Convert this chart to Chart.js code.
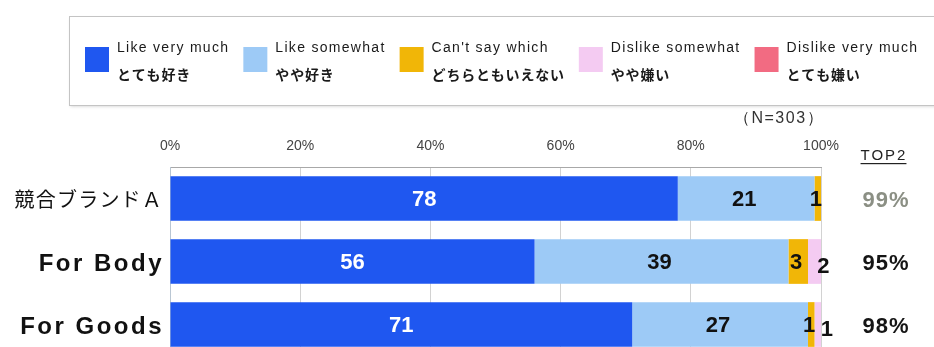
<!DOCTYPE html>
<html>
<head>
<meta charset="utf-8">
<script src="https://cdn.jsdelivr.net/npm/chart.js@4.4.1/dist/chart.umd.min.js"></script>
<style>
  html, body { margin: 0; padding: 0; background: #ffffff; overflow: hidden; }
  #wrap { width: 934px; height: 347px; overflow: hidden; }
  canvas { display: block; }
</style>
</head>
<body>
<div id="wrap"><canvas id="chart" width="934" height="360"></canvas></div>
<script>
// Survey rows and answer shares (%)
const categories = ['競合ブランドＡ', 'For Body', 'For Goods'];
const likeVeryMuch    = [78, 56, 71];
const likeSomewhat    = [21, 39, 27];
const cantSay         = [1, 3, 1];
const dislikeSomewhat = [0, 2, 1];
const dislikeVeryMuch = [0, 0, 0];

const seriesLabels = [
  ['Like very much', 'とても好き'],
  ['Like somewhat', 'やや好き'],
  ["Can't say which", 'どちらともいえない'],
  ['Dislike somewhat', 'やや嫌い'],
  ['Dislike very much', 'とても嫌い']
];
const seriesColors = ['#1f57f0', '#9dcaf6', '#f1b607', '#f4cbf2', '#f26b82'];
const xTicks = [0, 20, 40, 60, 80, 100];
const sampleNote = '（N=303）';
const top2Title = 'TOP2';

const seriesValues = [likeVeryMuch, likeSomewhat, cantSay, dislikeSomewhat, dislikeVeryMuch];

const NUM_FONT = 'bold 22px "Liberation Sans", Arial, sans-serif';

function withSpacing(ctx, px, fn) {
  const prev = ctx.letterSpacing;
  if ('letterSpacing' in ctx) ctx.letterSpacing = px + 'px';
  fn();
  if ('letterSpacing' in ctx) ctx.letterSpacing = prev;
}

// Boxed two-line legend across the top
const legendBox = {
  id: 'legendBox',
  afterDraw(chart) {
    const ctx = chart.ctx;
    ctx.save();
    // frame with a faint shadow
    ctx.shadowColor = 'rgba(0,0,0,0.18)';
    ctx.shadowBlur = 3;
    ctx.shadowOffsetY = 1;
    ctx.fillStyle = '#ffffff';
    ctx.fillRect(69.5, 16.5, 880, 89);
    ctx.shadowColor = 'transparent';
    ctx.strokeStyle = '#c4c4c4';
    ctx.lineWidth = 1;
    ctx.strokeRect(69.5, 16.5, 880, 89);

    let x = 85;
    chart.data.datasets.forEach((ds, i) => {
      ctx.fillStyle = ds.backgroundColor;
      ctx.fillRect(x, 47, 24, 25);
      const tx = x + 32;
      ctx.fillStyle = '#1a1a1a';
      ctx.textAlign = 'left';
      ctx.textBaseline = 'middle';
      let w1 = 0, w2 = 0;
      withSpacing(ctx, 1.3, () => {
        ctx.font = '14px "Liberation Sans", Arial, sans-serif';
        ctx.fillText(ds.label[0], tx, 48);
        w1 = ctx.measureText(ds.label[0]).width;
      });
      withSpacing(ctx, 0.8, () => {
        ctx.font = 'bold 14px "Noto Sans CJK JP", sans-serif';
        ctx.fillText(ds.label[1], tx, 75);
        w2 = ctx.measureText(ds.label[1]).width;
      });
      x = tx + Math.max(w1, w2) + 14;
    });
    ctx.restore();
  }
};

// Value labels in the bars, category names, TOP2 column and sample size
const barLabels = {
  id: 'barLabels',
  afterDatasetsDraw(chart) {
    const ctx = chart.ctx;
    const yScale = chart.scales.y;
    const xScale = chart.scales.x;
    ctx.save();
    ctx.textBaseline = 'middle';

    chart.data.datasets.forEach((ds, i) => {
      const meta = chart.getDatasetMeta(i);
      meta.data.forEach((bar, j) => {
        const v = ds.data[j];
        if (!v) return;
        const cx = (bar.x + bar.base) / 2;
        ctx.font = NUM_FONT;
        ctx.textAlign = 'center';
        if (i === 0) {
          ctx.fillStyle = '#ffffff';
          ctx.fillText(String(v), cx, bar.y + 1);
        } else if (i <= 2) {
          ctx.fillStyle = '#111111';
          ctx.fillText(String(v), cx - 2, bar.y + 1);
        } else {
          ctx.fillStyle = '#111111';
          ctx.fillText(String(v), cx + 9, bar.y + 5);
        }
      });
    });

    // category names left of the bars
    categories.forEach((name, j) => {
      const y = yScale.getPixelForValue(j);
      const rx = yScale.right - 8;
      ctx.fillStyle = '#111111';
      ctx.textAlign = 'right';
      if (j === 0) {
        withSpacing(ctx, 1.2, () => {
          ctx.font = '20px "Noto Sans CJK JP", sans-serif';
          ctx.fillText(name, rx + 1, y + 1);
        });
      } else {
        withSpacing(ctx, 2.5, () => {
          ctx.font = 'bold 24px "Liberation Sans", Arial, sans-serif';
          ctx.fillText(name, rx + 2, y + 3);
        });
      }
    });

    // TOP2 column
    const colX = xScale.right + 64;
    ctx.textAlign = 'center';
    withSpacing(ctx, 2, () => {
      ctx.font = '15px "Liberation Sans", Arial, sans-serif';
      ctx.fillStyle = '#222222';
      ctx.fillText(top2Title, colX - 1, 156);
      const w = ctx.measureText(top2Title).width;
      ctx.fillRect(colX - w / 2 - 1, 163, w - 1, 1.2);
    });
    categories.forEach((name, j) => {
      const y = yScale.getPixelForValue(j);
      const top2 = likeVeryMuch[j] + likeSomewhat[j];
      ctx.fillStyle = j === 0 ? '#8b8f84' : '#151515';
      withSpacing(ctx, 1, () => {
        ctx.font = NUM_FONT;
        ctx.fillText(top2 + '%', colX + 1, y + 2);
      });
    });

    // sample size note
    withSpacing(ctx, 1.5, () => {
      ctx.font = '16px "Liberation Sans", Arial, sans-serif';
      ctx.fillStyle = '#333333';
      ctx.textAlign = 'center';
      ctx.fillText(sampleNote, xScale.right - 42, 119);
    });
    ctx.restore();
  }
};

new Chart(document.getElementById('chart'), {
  type: 'bar',
  data: {
    labels: categories,
    datasets: seriesValues.map((vals, i) => ({
      label: seriesLabels[i],
      data: vals,
      backgroundColor: seriesColors[i],
      borderWidth: 0,
      barPercentage: 0.71,
      categoryPercentage: 1.0
    }))
  },
  options: {
    indexAxis: 'y',
    responsive: false,
    animation: false,
    layout: { padding: { top: 130, right: 113, bottom: 4, left: 0 } },
    plugins: {
      legend: { display: false },
      tooltip: { enabled: false }
    },
    scales: {
      x: {
        position: 'top',
        stacked: true,
        min: 0,
        max: 100,
        afterBuildTicks(scale) { scale.ticks = xTicks.map(v => ({ value: v })); },
        afterFit(scale) { scale.height = 37; },
        ticks: {
          callback: v => v + '%',
          color: '#444444',
          padding: 12,
          maxRotation: 0,
          font: { family: '"Liberation Sans", Arial, sans-serif', size: 14 }
        },
        grid: { color: '#d2d2d2', drawTicks: false, lineWidth: 1 },
        border: { display: true, color: '#a8a8a8' }
      },
      y: {
        stacked: true,
        afterFit(scale) { scale.width = 170; },
        ticks: { display: false },
        grid: { display: false },
        border: { display: true, color: '#b9c6d3' }
      }
    }
  },
  plugins: [legendBox, barLabels]
});
</script>
</body>
</html>
